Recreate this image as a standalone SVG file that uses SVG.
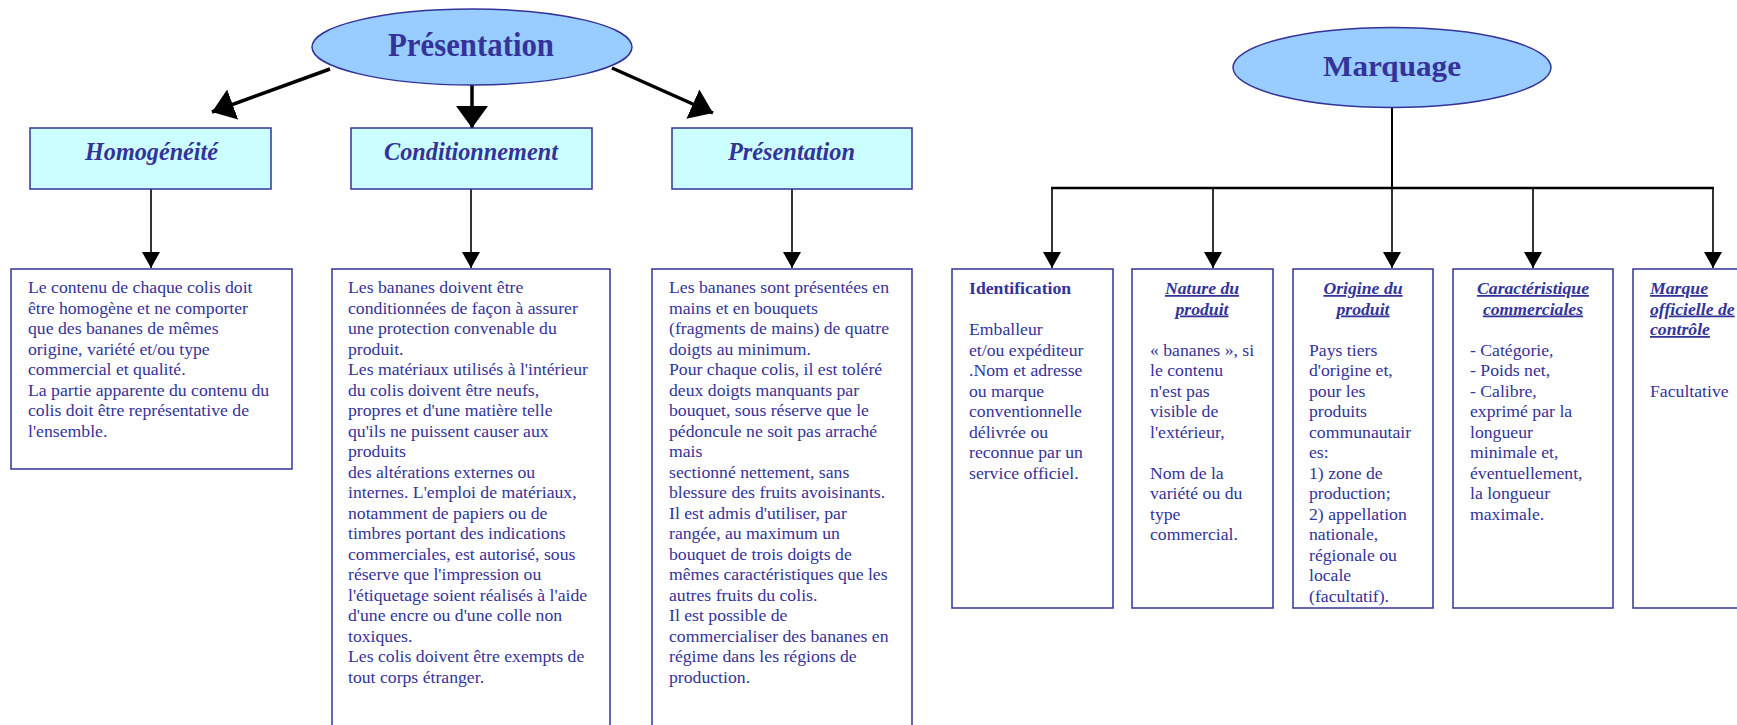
<svg xmlns="http://www.w3.org/2000/svg" width="1737" height="725" viewBox="0 0 1737 725">
<defs>
<style>
.ell{fill:#99CCFF;stroke:#333399;stroke-width:1.5}
.hdr{fill:#CCFFFF;stroke:#333399;stroke-width:1.5}
.box{fill:#FFFFFF;stroke:#333399;stroke-width:1.5}
.big{font-family:"Liberation Serif","Times New Roman",serif;font-weight:bold;fill:#333399}
.ttl{font-family:"Liberation Serif","Times New Roman",serif;font-weight:bold;font-style:italic;fill:#333399;font-size:26px}
.txt{font-family:"Liberation Serif","Times New Roman",serif;font-size:17.7px;fill:#333399}
.sub{font-weight:bold;font-style:italic;text-decoration:underline}
.thick{stroke:#000;stroke-width:3.5;fill:none}
.thin{stroke:#000;stroke-width:1.6;fill:none}
</style>
<marker id="bigHead" markerUnits="userSpaceOnUse" markerWidth="24" markerHeight="34" refX="22" refY="16" orient="auto">
<path d="M0,0 L22,16 L0,32 z" fill="#000"/>
</marker>
<marker id="smallHead" markerUnits="userSpaceOnUse" markerWidth="18" markerHeight="20" refX="16" refY="9" orient="auto">
<path d="M0,0 L16,9 L0,18 z" fill="#000"/>
</marker>
<clipPath id="clipOrig"><rect x="1293" y="269" width="140" height="339"/></clipPath>
</defs>

<g id="connectors">
<line class="thick" x1="330" y1="69" x2="212" y2="112" marker-end="url(#bigHead)"/>
<line class="thick" x1="472" y1="84" x2="472" y2="128" marker-end="url(#bigHead)"/>
<line class="thick" x1="612" y1="68" x2="713" y2="113" marker-end="url(#bigHead)"/>
<line class="thin" x1="151" y1="189" x2="151" y2="268" marker-end="url(#smallHead)"/>
<line class="thin" x1="471" y1="189" x2="471" y2="268" marker-end="url(#smallHead)"/>
<line class="thin" x1="792" y1="189" x2="792" y2="268" marker-end="url(#smallHead)"/>
<line x1="1392" y1="108" x2="1392" y2="188" stroke="#000" stroke-width="2"/>
<line x1="1051" y1="188" x2="1714" y2="188" stroke="#000" stroke-width="2.5"/>
<line class="thin" x1="1052" y1="188" x2="1052" y2="268" marker-end="url(#smallHead)"/>
<line class="thin" x1="1213" y1="188" x2="1213" y2="268" marker-end="url(#smallHead)"/>
<line class="thin" x1="1392" y1="188" x2="1392" y2="268" marker-end="url(#smallHead)"/>
<line class="thin" x1="1533" y1="188" x2="1533" y2="268" marker-end="url(#smallHead)"/>
<line class="thin" x1="1713" y1="188" x2="1713" y2="268" marker-end="url(#smallHead)"/>
</g>

<g id="presentation-root">
<ellipse class="ell" cx="472" cy="47" rx="160" ry="38"/>
<text class="big" x="388" y="56" font-size="33" textLength="166" lengthAdjust="spacingAndGlyphs">Présentation</text>
</g>

<g id="homogeneite">
<rect class="hdr" x="30" y="128" width="241" height="61"/>
<text class="ttl" x="85" y="160" textLength="133" lengthAdjust="spacingAndGlyphs">Homogénéité</text>
</g>
<g id="conditionnement">
<rect class="hdr" x="351" y="128" width="241" height="61"/>
<text class="ttl" x="384" y="160" textLength="174" lengthAdjust="spacingAndGlyphs">Conditionnement</text>
</g>
<g id="presentation">
<rect class="hdr" x="672" y="128" width="240" height="61"/>
<text class="ttl" x="728" y="160" textLength="127" lengthAdjust="spacingAndGlyphs">Présentation</text>
</g>

<g id="homogeneite-text">
<rect class="box" x="11" y="269" width="281" height="200"/>
<text class="txt" x="28" y="293">
<tspan x="28">Le contenu de chaque colis doit</tspan>
<tspan x="28" dy="20.5">être homogène et ne comporter</tspan>
<tspan x="28" dy="20.5">que des bananes de mêmes</tspan>
<tspan x="28" dy="20.5">origine, variété et/ou type</tspan>
<tspan x="28" dy="20.5">commercial et qualité.</tspan>
<tspan x="28" dy="20.5">La partie apparente du contenu du</tspan>
<tspan x="28" dy="20.5">colis doit être représentative de</tspan>
<tspan x="28" dy="20.5">l'ensemble.</tspan>
</text>
</g>

<g id="conditionnement-text">
<rect class="box" x="332" y="269" width="278" height="470"/>
<text class="txt" x="348" y="293">
<tspan x="348">Les bananes doivent être</tspan>
<tspan x="348" dy="20.5">conditionnées de façon à assurer</tspan>
<tspan x="348" dy="20.5">une protection convenable du</tspan>
<tspan x="348" dy="20.5">produit.</tspan>
<tspan x="348" dy="20.5">Les matériaux utilisés à l'intérieur</tspan>
<tspan x="348" dy="20.5">du colis doivent être neufs,</tspan>
<tspan x="348" dy="20.5">propres et d'une matière telle</tspan>
<tspan x="348" dy="20.5">qu'ils ne puissent causer aux</tspan>
<tspan x="348" dy="20.5">produits</tspan>
<tspan x="348" dy="20.5">des altérations externes ou</tspan>
<tspan x="348" dy="20.5">internes. L'emploi de matériaux,</tspan>
<tspan x="348" dy="20.5">notamment de papiers ou de</tspan>
<tspan x="348" dy="20.5">timbres portant des indications</tspan>
<tspan x="348" dy="20.5">commerciales, est autorisé, sous</tspan>
<tspan x="348" dy="20.5">réserve que l'impression ou</tspan>
<tspan x="348" dy="20.5">l'étiquetage soient réalisés à l'aide</tspan>
<tspan x="348" dy="20.5">d'une encre ou d'une colle non</tspan>
<tspan x="348" dy="20.5">toxiques.</tspan>
<tspan x="348" dy="20.5">Les colis doivent être exempts de</tspan>
<tspan x="348" dy="20.5">tout corps étranger.</tspan>
</text>
</g>

<g id="presentation-text">
<rect class="box" x="652" y="269" width="260" height="470"/>
<text class="txt" x="669" y="293">
<tspan x="669">Les bananes sont présentées en</tspan>
<tspan x="669" dy="20.5">mains et en bouquets</tspan>
<tspan x="669" dy="20.5">(fragments de mains) de quatre</tspan>
<tspan x="669" dy="20.5">doigts au minimum.</tspan>
<tspan x="669" dy="20.5">Pour chaque colis, il est toléré</tspan>
<tspan x="669" dy="20.5">deux doigts manquants par</tspan>
<tspan x="669" dy="20.5">bouquet, sous réserve que le</tspan>
<tspan x="669" dy="20.5">pédoncule ne soit pas arraché</tspan>
<tspan x="669" dy="20.5">mais</tspan>
<tspan x="669" dy="20.5">sectionné nettement, sans</tspan>
<tspan x="669" dy="20.5">blessure des fruits avoisinants.</tspan>
<tspan x="669" dy="20.5">Il est admis d'utiliser, par</tspan>
<tspan x="669" dy="20.5">rangée, au maximum un</tspan>
<tspan x="669" dy="20.5">bouquet de trois doigts de</tspan>
<tspan x="669" dy="20.5">mêmes caractéristiques que les</tspan>
<tspan x="669" dy="20.5">autres fruits du colis.</tspan>
<tspan x="669" dy="20.5">Il est possible de</tspan>
<tspan x="669" dy="20.5">commercialiser des bananes en</tspan>
<tspan x="669" dy="20.5">régime dans les régions de</tspan>
<tspan x="669" dy="20.5">production.</tspan>
</text>
</g>

<g id="marquage-root">
<ellipse class="ell" cx="1392" cy="67.5" rx="159" ry="40"/>
<text class="big" x="1323" y="76" font-size="30" textLength="138" lengthAdjust="spacingAndGlyphs">Marquage</text>
</g>

<g id="identification">
<rect class="box" x="952" y="269" width="161" height="339"/>
<text class="txt" x="969" y="294">
<tspan x="969" font-weight="bold">Identification</tspan>
<tspan x="969" dy="41">Emballeur</tspan>
<tspan x="969" dy="20.5">et/ou expéditeur</tspan>
<tspan x="969" dy="20.5">.Nom et adresse</tspan>
<tspan x="969" dy="20.5">ou marque</tspan>
<tspan x="969" dy="20.5">conventionnelle</tspan>
<tspan x="969" dy="20.5">délivrée ou</tspan>
<tspan x="969" dy="20.5">reconnue par un</tspan>
<tspan x="969" dy="20.5">service officiel.</tspan>
</text>
</g>

<g id="nature">
<rect class="box" x="1132" y="269" width="141" height="339"/>
<text class="txt sub" x="1202" y="294" text-anchor="middle">Nature du</text>
<text class="txt sub" x="1202" y="314.5" text-anchor="middle">produit</text>
<text class="txt" x="1150" y="355.5">
<tspan x="1150">« bananes », si</tspan>
<tspan x="1150" dy="20.5">le contenu</tspan>
<tspan x="1150" dy="20.5">n'est pas</tspan>
<tspan x="1150" dy="20.5">visible de</tspan>
<tspan x="1150" dy="20.5">l'extérieur,</tspan>
<tspan x="1150" dy="41">Nom de la</tspan>
<tspan x="1150" dy="20.5">variété ou du</tspan>
<tspan x="1150" dy="20.5">type</tspan>
<tspan x="1150" dy="20.5">commercial.</tspan>
</text>
</g>

<g id="origine">
<rect class="box" x="1293" y="269" width="140" height="339"/>
<text class="txt sub" x="1363" y="294" text-anchor="middle">Origine du</text>
<text class="txt sub" x="1363" y="314.5" text-anchor="middle">produit</text>
<text class="txt" x="1309" y="355.5" clip-path="url(#clipOrig)">
<tspan x="1309">Pays tiers</tspan>
<tspan x="1309" dy="20.5">d'origine et,</tspan>
<tspan x="1309" dy="20.5">pour les</tspan>
<tspan x="1309" dy="20.5">produits</tspan>
<tspan x="1309" dy="20.5">communautair</tspan>
<tspan x="1309" dy="20.5">es:</tspan>
<tspan x="1309" dy="20.5">1) zone de</tspan>
<tspan x="1309" dy="20.5">production;</tspan>
<tspan x="1309" dy="20.5">2) appellation</tspan>
<tspan x="1309" dy="20.5">nationale,</tspan>
<tspan x="1309" dy="20.5">régionale ou</tspan>
<tspan x="1309" dy="20.5">locale</tspan>
<tspan x="1309" dy="20.5">(facultatif).</tspan>
</text>
</g>

<g id="caracteristique">
<rect class="box" x="1453" y="269" width="160" height="339"/>
<text class="txt sub" x="1533" y="294" text-anchor="middle">Caractéristique</text>
<text class="txt sub" x="1533" y="314.5" text-anchor="middle">commerciales</text>
<text class="txt" x="1470" y="355.5">
<tspan x="1470">- Catégorie,</tspan>
<tspan x="1470" dy="20.5">- Poids net,</tspan>
<tspan x="1470" dy="20.5">- Calibre,</tspan>
<tspan x="1470" dy="20.5">exprimé par la</tspan>
<tspan x="1470" dy="20.5">longueur</tspan>
<tspan x="1470" dy="20.5">minimale et,</tspan>
<tspan x="1470" dy="20.5">éventuellement,</tspan>
<tspan x="1470" dy="20.5">la longueur</tspan>
<tspan x="1470" dy="20.5">maximale.</tspan>
</text>
</g>

<g id="marque">
<rect class="box" x="1633" y="269" width="161" height="339"/>
<text class="txt sub" x="1650" y="294">Marque</text>
<text class="txt sub" x="1650" y="314.5">officielle de</text>
<text class="txt sub" x="1650" y="335">contrôle</text>
<text class="txt" x="1650" y="396.5">Facultative</text>
</g>
</svg>
